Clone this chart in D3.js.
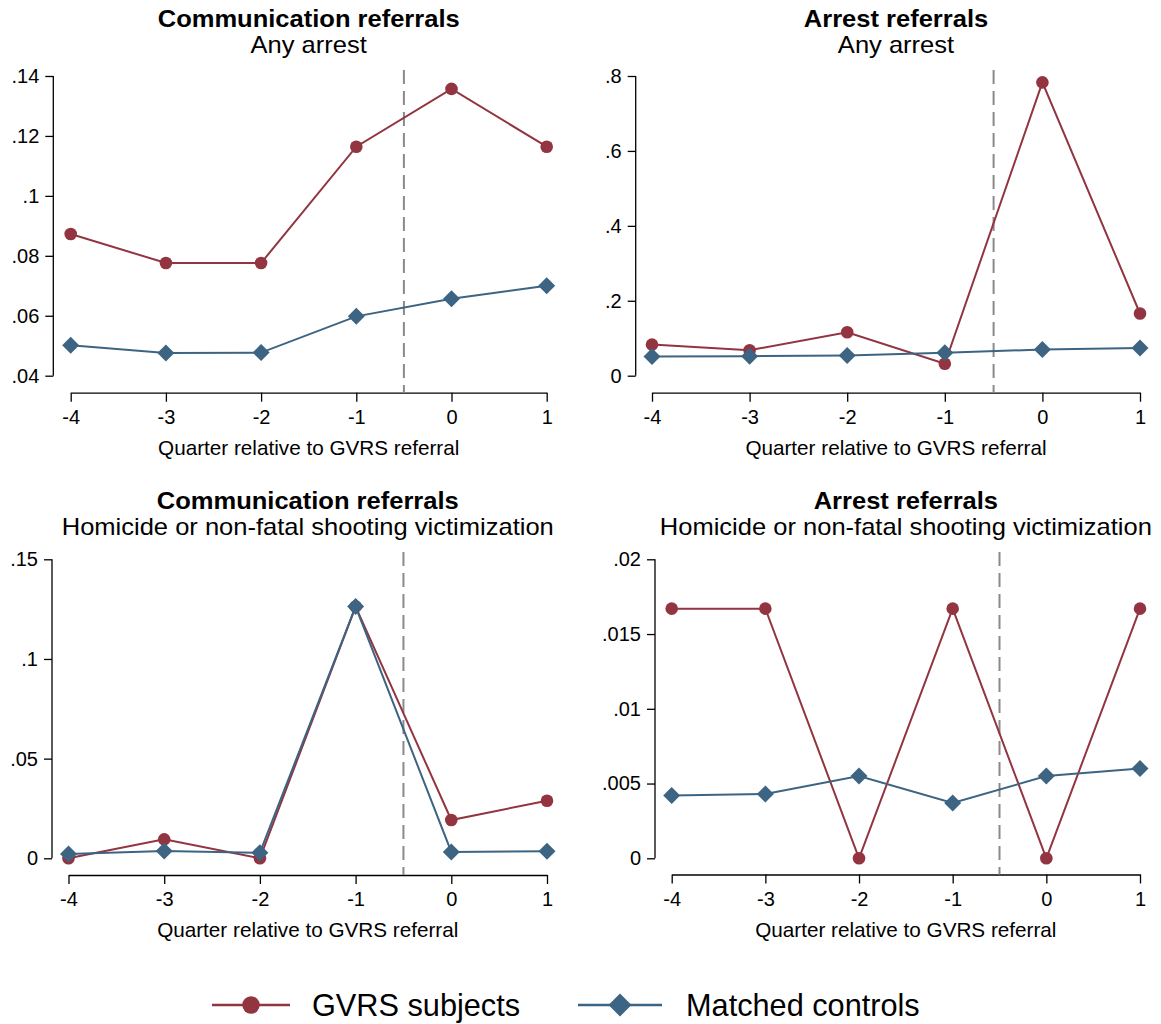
<!DOCTYPE html>
<html>
<head>
<meta charset="utf-8">
<script src="https://cdn.jsdelivr.net/npm/d3@7"></script>
<style>
  html, body { margin: 0; padding: 0; background: #fff; }
  svg { display: block; font-family: "Liberation Sans", Arial, Helvetica, sans-serif; }
</style>
</head>
<body>
<svg id="chart" width="1161" height="1024"></svg>
<script>
// Quarters relative to the GVRS referral
const quarters = [-4, -3, -2, -1, 0, 1];

// Panel titles
const panelTitles = ["Communication referrals", "Arrest referrals", "Communication referrals", "Arrest referrals"];
const panelSubtitles = ["Any arrest", "Any arrest", "Homicide or non-fatal shooting victimization", "Homicide or non-fatal shooting victimization"];

// Series values per panel
const gvrsCommArrest   = [0.0873, 0.0776, 0.0776, 0.1164, 0.1357, 0.1164];
const ctrlCommArrest   = [0.0502, 0.0476, 0.0477, 0.0598, 0.0657, 0.0700];
const gvrsArrArrest    = [0.083, 0.068, 0.116, 0.032, 0.783, 0.166];
const ctrlArrArrest    = [0.051, 0.052, 0.054, 0.061, 0.070, 0.074];
const gvrsCommVictim   = [0.0, 0.0095, 0.0, 0.1263, 0.0192, 0.0289];
const ctrlCommVictim   = [0.0022, 0.0037, 0.0028, 0.1263, 0.0032, 0.0035];
const gvrsArrVictim    = [0.0167, 0.0167, 0.0, 0.0167, 0.0, 0.0167];
const ctrlArrVictim    = [0.0042, 0.0043, 0.0055, 0.0037, 0.0055, 0.0060];

// Y tick values and labels per panel
const yTicks1 = [0.04, 0.06, 0.08, 0.10, 0.12, 0.14];
const yTickLabels1 = [".04", ".06", ".08", ".1", ".12", ".14"];
const yTicks2 = [0, 0.2, 0.4, 0.6, 0.8];
const yTickLabels2 = ["0", ".2", ".4", ".6", ".8"];
const yTicks3 = [0, 0.05, 0.10, 0.15];
const yTickLabels3 = ["0", ".05", ".1", ".15"];
const yTicks4 = [0, 0.005, 0.010, 0.015, 0.020];
const yTickLabels4 = ["0", ".005", ".01", ".015", ".02"];

const xTitle = "Quarter relative to GVRS referral";
const seriesNames = ["GVRS subjects", "Matched controls"];
const referralLine = -0.5;

const RED = "#923541";
const BLUE = "#3d6482";
const GREY = "#8a8a8a";

// Layout of each panel (pixel geometry)
const layout = [
  { yAxisX: 53.3,  xLeft: 70.7,  xRight: 546.7, yTop: 76,    yBottom: 375.7, xAxisY: 392.7, dashTop: 70,  titleY: 27,  subY: 53 },
  { yAxisX: 635.7, xLeft: 652,   xRight: 1140,  yTop: 76,    yBottom: 375.7, xAxisY: 392.7, dashTop: 70,  titleY: 27,  subY: 53 },
  { yAxisX: 52,    xLeft: 68.5,  xRight: 547,   yTop: 559.3, yBottom: 858.3, xAxisY: 875,   dashTop: 552, titleY: 509, subY: 535 },
  { yAxisX: 655,   xLeft: 671.7, xRight: 1140,  yTop: 559.3, yBottom: 858.3, xAxisY: 874.5, dashTop: 552, titleY: 509, subY: 535 }
];

const panels = [
  { gvrs: gvrsCommArrest, ctrl: ctrlCommArrest, ticks: yTicks1, labels: yTickLabels1 },
  { gvrs: gvrsArrArrest,  ctrl: ctrlArrArrest,  ticks: yTicks2, labels: yTickLabels2 },
  { gvrs: gvrsCommVictim, ctrl: ctrlCommVictim, ticks: yTicks3, labels: yTickLabels3 },
  { gvrs: gvrsArrVictim,  ctrl: ctrlArrVictim,  ticks: yTicks4, labels: yTickLabels4 }
];

const svg = d3.select("#chart");

function diamondPath(r) {
  return `M0,${-r}L${r},0L0,${r}L${-r},0Z`;
}

// Wide heading text: drawn at a moderate size and widened horizontally
function heading(g, cx, cy, str, bold) {
  g.append("text")
    .attr("transform", `translate(${cx},${cy}) scale(1.11,1)`)
    .attr("text-anchor", "middle")
    .attr("font-size", 23)
    .attr("font-weight", bold ? "bold" : "normal")
    .attr("fill", "#000")
    .text(str);
}

panels.forEach((p, i) => {
  const L = layout[i];
  const g = svg.append("g");
  const x = d3.scaleLinear().domain([-4, 1]).range([L.xLeft, L.xRight]);
  const y = d3.scaleLinear().domain([p.ticks[0], p.ticks[p.ticks.length - 1]]).range([L.yBottom, L.yTop]);
  const cx = (L.xLeft + L.xRight) / 2;

  // Titles
  heading(g, cx, L.titleY, panelTitles[i], true);
  heading(g, cx, L.subY, panelSubtitles[i], false);

  // Y axis
  const yAxis = d3.axisLeft(y).tickValues(p.ticks).tickFormat((d, k) => p.labels[k])
    .tickSize(8).tickSizeOuter(0).tickPadding(6);
  const yg = g.append("g").attr("transform", `translate(${L.yAxisX},0)`).call(yAxis);
  yg.select(".domain").attr("d", `M0,${L.yTop}V${L.yBottom}`);

  // X axis
  const xAxis = d3.axisBottom(x).tickValues(quarters).tickFormat(d3.format("d"))
    .tickSize(9).tickSizeOuter(0).tickPadding(8);
  const xg = g.append("g").attr("transform", `translate(0,${L.xAxisY})`).call(xAxis);

  [yg, xg].forEach(a => {
    a.attr("font-size", 20).attr("font-family", "'Liberation Sans', Arial, sans-serif");
    a.selectAll(".domain").attr("stroke", "#000").attr("stroke-width", 1.3);
    a.selectAll(".tick line").attr("stroke", "#000").attr("stroke-width", 1.3);
    a.selectAll(".tick text").attr("fill", "#000");
  });
  xg.selectAll(".tick text").text(d => d < 0 ? "-" + Math.abs(d) : d);

  // X axis title
  g.append("text").attr("x", cx).attr("y", L.xAxisY + 62).attr("text-anchor", "middle")
    .attr("font-size", 20.7).attr("fill", "#000").text(xTitle);

  // Referral reference line
  g.append("line")
    .attr("x1", x(referralLine)).attr("x2", x(referralLine))
    .attr("y1", L.dashTop).attr("y2", L.xAxisY)
    .attr("stroke", GREY).attr("stroke-width", 2).attr("stroke-dasharray", "14,7");

  const line = d3.line().x((d, k) => x(quarters[k])).y(d => y(d));

  // GVRS subjects
  g.append("path").datum(p.gvrs).attr("d", line).attr("fill", "none")
    .attr("stroke", RED).attr("stroke-width", 2);
  g.selectAll(".gvrs").data(p.gvrs).enter().append("circle")
    .attr("cx", (d, k) => x(quarters[k])).attr("cy", d => y(d)).attr("r", 6.3).attr("fill", RED);

  // Matched controls
  g.append("path").datum(p.ctrl).attr("d", line).attr("fill", "none")
    .attr("stroke", BLUE).attr("stroke-width", 2);
  g.selectAll(".ctrl").data(p.ctrl).enter().append("path")
    .attr("transform", (d, k) => `translate(${x(quarters[k])},${y(d)})`)
    .attr("d", diamondPath(8.5)).attr("fill", BLUE);
});

// Legend
const lg = svg.append("g");
const legendItems = [
  { name: seriesNames[0], color: RED, x0: 212, x1: 290, tx: 312, marker: "circle" },
  { name: seriesNames[1], color: BLUE, x0: 578, x1: 662, tx: 686, marker: "diamond" }
];
legendItems.forEach(it => {
  const ly = 1005;
  lg.append("line").attr("x1", it.x0).attr("x2", it.x1).attr("y1", ly).attr("y2", ly)
    .attr("stroke", it.color).attr("stroke-width", 2.5);
  const mx = (it.x0 + it.x1) / 2;
  if (it.marker === "circle") {
    lg.append("circle").attr("cx", mx).attr("cy", ly).attr("r", 8.7).attr("fill", it.color);
  } else {
    lg.append("path").attr("transform", `translate(${mx},${ly})`).attr("d", diamondPath(11.5)).attr("fill", it.color);
  }
  lg.append("text").attr("x", it.tx).attr("y", ly + 11).attr("font-size", 30.7).attr("fill", "#000").text(it.name);
});
</script>
</body>
</html>
